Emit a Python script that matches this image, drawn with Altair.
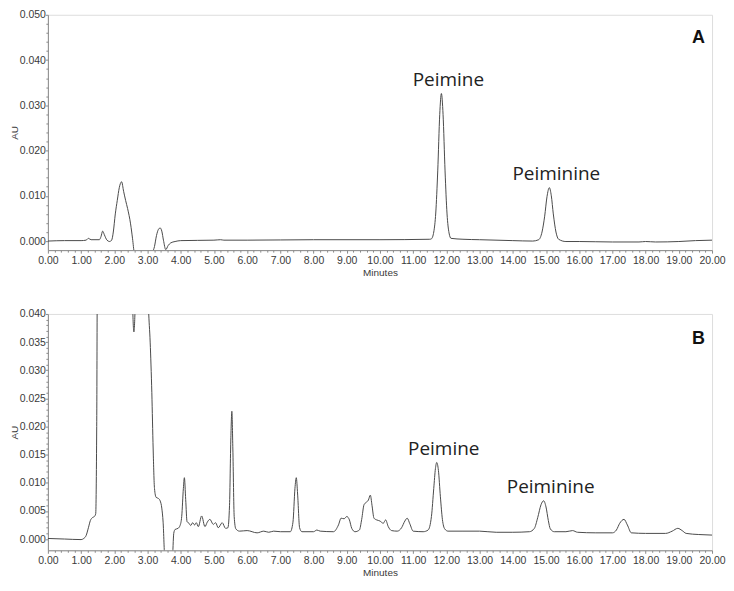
import altair as alt
import pandas as pd

# ---------------- data ----------------
a_time = [0.0, 0.5, 1.0, 1.15, 1.22, 1.3, 1.55, 1.6, 1.65, 1.7, 1.78, 1.86, 1.92, 1.97,
          2.03, 2.09, 2.15, 2.22, 2.28, 2.34, 2.40, 2.49, 2.55, 2.60, 2.70, 3.05, 3.15,
          3.21, 3.27, 3.33, 3.38, 3.43, 3.48, 3.55, 3.62, 3.70, 3.83, 4.0, 5.0, 5.2, 5.3,
          6.0, 8.0, 10.0, 11.5, 11.55, 11.62, 11.68, 11.74, 11.80, 11.85, 11.90, 11.96,
          12.02, 12.08, 12.14, 12.5, 13.0, 14.0, 14.6, 14.78, 14.88, 14.96, 15.03, 15.10,
          15.16, 15.22, 15.30, 15.38, 15.6, 16.0, 17.0, 17.8, 18.0, 18.3, 19.0, 19.5, 20.0]
a_au = [0.0000, 0.0001, 0.0001, 0.0002, 0.0006, 0.0003, 0.0003, 0.0010, 0.0022, 0.0014,
        0.0002, -0.0001, 0.0002, 0.0020, 0.0060, 0.0090, 0.0118, 0.0131, 0.0110, 0.0090,
        0.0072, 0.0038, 0.0005, -0.0025, -0.0040, -0.0040, -0.0025, -0.0012, 0.0012,
        0.0026, 0.0029, 0.0022, 0.0002, -0.0019, -0.0010, -0.0004, -0.0001, 0.0001,
        0.0002, 0.0003, 0.0002, 0.0002, 0.0003, 0.0003, 0.0004, 0.0005, 0.0020, 0.0062,
        0.0155, 0.0280, 0.0326, 0.0280, 0.0155, 0.0060, 0.0018, 0.0006, 0.0004, 0.0003,
        0.0001, 0.0000, 0.0003, 0.0020, 0.0055, 0.0098, 0.0118, 0.0100, 0.0060, 0.0020,
        0.0004, -0.0001, -0.0001, -0.0002, -0.0002, -0.0001, -0.0002, -0.0001, 0.0001,
        0.0002]

b_time = [0.0, 0.5, 1.0, 1.08, 1.15, 1.22, 1.28, 1.34, 1.40, 1.44, 1.47, 1.50, 2.50, 2.55,
          2.59, 2.63, 2.68, 2.95, 3.03, 3.08, 3.13, 3.17, 3.21, 3.26, 3.33, 3.38, 3.43,
          3.47, 3.52, 3.75, 3.79, 3.83, 3.92, 3.98, 4.03, 4.08, 4.11, 4.15, 4.19, 4.25,
          4.30, 4.36, 4.42, 4.47, 4.53, 4.63, 4.73, 4.80, 4.88, 4.98, 5.05, 5.13, 5.25,
          5.35, 5.42, 5.47, 5.51, 5.54, 5.57, 5.61, 5.66, 5.77, 6.0, 6.3, 6.5, 6.65, 6.8,
          7.0, 7.3, 7.38, 7.44, 7.48, 7.52, 7.58, 7.65, 8.0, 8.1, 8.2, 8.6, 8.75, 8.83,
          8.92, 9.00, 9.08, 9.15, 9.25, 9.38, 9.45, 9.52, 9.58, 9.65, 9.71, 9.76, 9.82,
          9.9, 10.0, 10.1, 10.17, 10.25, 10.35, 10.52, 10.65, 10.75, 10.82, 10.9, 11.0,
          11.3, 11.45, 11.55, 11.62, 11.67, 11.71, 11.76, 11.82, 11.88, 11.95, 12.05,
          12.5, 13.0, 13.5, 14.0, 14.5, 14.65, 14.75, 14.85, 14.93, 15.0, 15.07, 15.13,
          15.25, 15.6, 15.8, 15.95, 16.5, 17.0, 17.12, 17.22, 17.35, 17.45, 17.57, 18.0,
          18.6, 18.8, 18.97, 19.1, 19.22, 19.6, 20.0]
b_au = [0.0001, 0.0000, -0.0001, 0.0001, 0.0006, 0.0020, 0.0033, 0.0038, 0.0040, 0.0045,
        0.0200, 0.0600, 0.0600, 0.0420, 0.0368, 0.0420, 0.0600, 0.0600, 0.0410, 0.0350,
        0.0260, 0.0160, 0.0090, 0.0074, 0.0072, 0.0068, 0.0055, 0.0030, -0.0030, -0.0030,
        0.0010, 0.0017, 0.0019, 0.0024, 0.0040, 0.0090, 0.0109, 0.0070, 0.0031, 0.0028,
        0.0024, 0.0029, 0.0025, 0.0029, 0.0022, 0.0041, 0.0022, 0.0030, 0.0035, 0.0026,
        0.0029, 0.0020, 0.0029, 0.0019, 0.0020, 0.0060, 0.0180, 0.0227, 0.0160, 0.0040,
        0.0018, 0.0014, 0.0015, 0.0011, 0.0014, 0.0012, 0.0014, 0.0013, 0.0013, 0.0030,
        0.0090, 0.0109, 0.0080, 0.0020, 0.0013, 0.0013, 0.0016, 0.0014, 0.0013, 0.0025,
        0.0037, 0.0036, 0.0040, 0.0034, 0.0019, 0.0013, 0.0016, 0.0035, 0.0061, 0.0065,
        0.0069, 0.0078, 0.0060, 0.0037, 0.0034, 0.0032, 0.0028, 0.0034, 0.0022, 0.0015,
        0.0014, 0.0020, 0.0032, 0.0037, 0.0027, 0.0014, 0.0013, 0.0016, 0.0040, 0.0090,
        0.0125, 0.0136, 0.0122, 0.0075, 0.0035, 0.0018, 0.0014, 0.0014, 0.0014, 0.0012,
        0.0012, 0.0013, 0.0019, 0.0038, 0.0061, 0.0068, 0.0057, 0.0033, 0.0018, 0.0013,
        0.0013, 0.0015, 0.0012, 0.0011, 0.0011, 0.0016, 0.0028, 0.0035, 0.0025, 0.0011,
        0.0010, 0.0010, 0.0014, 0.0019, 0.0015, 0.0010, 0.0008, 0.0007]

peak_names = ["Peimine", "Peiminine"]
a_peak_time = [11.85, 15.10]
a_peak_au = [0.0326, 0.0118]
b_peak_time = [11.71, 14.93]
b_peak_au = [0.0136, 0.0068]
panel_names = ["A", "B"]

x_minor_ticks = [round(i * 0.2, 1) for i in range(101)]
a_y_minor_ticks = [round(i * 0.002, 3) for i in range(26)]
b_y_minor_ticks = [round(i * 0.001, 3) for i in range(41)]

# ---------------- styling ----------------
AXIS_GREY = "#8a8a8a"
TEXT_GREY = "#3a3a3a"
LINE_COL = "#4a4a4a"
LABEL_FONT = "Liberation Sans"
PLOT_W = 666


def x_axis():
    test = "abs(datum.value - round(datum.value)) < 0.001"
    return alt.Axis(
        values=x_minor_ticks,
        labelExpr=f"{test} ? format(datum.value, '.2f') : ''",
        tickSize={"condition": {"test": test, "value": 3}, "value": 2},
        labelFlush=False, labelOverlap=False, labelBound=False, grid=False,
        title="Minutes", titleFont=LABEL_FONT, titleFontSize=10, titleFontWeight="normal",
        titleColor=TEXT_GREY, titlePadding=2,
        labelFont=LABEL_FONT, labelFontSize=10.5, labelColor=TEXT_GREY, labelPadding=2,
        domainColor=AXIS_GREY, tickColor=AXIS_GREY,
    )


def y_axis(values, mult):
    test = f"abs(datum.value*{mult} - round(datum.value*{mult})) < 0.001"
    return alt.Axis(
        values=values,
        labelExpr=f"{test} ? format(datum.value, '.3f') : ''",
        tickSize={"condition": {"test": test, "value": 2.5}, "value": 2},
        labelOverlap=False, labelFlush=False, labelBound=False, grid=False,
        title="AU", titleFont=LABEL_FONT, titleFontSize=10, titleFontWeight="normal",
        titleColor=TEXT_GREY, titlePadding=0,
        labelFont=LABEL_FONT, labelFontSize=10.5, labelColor=TEXT_GREY, labelPadding=0,
        domainColor=AXIS_GREY, tickColor=AXIS_GREY,
    )


def panel(times, values, ymax, yticks, mult, ptimes, pvals, name, h, label_y):
    df = pd.DataFrame({"t": times, "au": values})
    peaks = pd.DataFrame({"t": ptimes, "au": pvals, "name": peak_names})
    lab = pd.DataFrame({"name": [name]})
    xs = alt.Scale(domain=[0, 20], nice=False, zero=False)
    ys = alt.Scale(domain=[-0.002, ymax], nice=False, zero=False)
    xa = x_axis()
    ya = y_axis(yticks, mult)
    line = alt.Chart(df).mark_line(color=LINE_COL, strokeWidth=1, clip=True,
                                   interpolate="monotone").encode(
        x=alt.X("t:Q", scale=xs, axis=xa),
        y=alt.Y("au:Q", scale=ys, axis=ya),
    )
    text = alt.Chart(peaks).mark_text(font="Open Sans", fontSize=19, color="#222222",
                                      align="center", baseline="alphabetic",
                                      dx=7, dy=-8).encode(
        x=alt.X("t:Q", scale=xs, axis=xa), y=alt.Y("au:Q", scale=ys, axis=ya),
        text="name:N")
    plabel = alt.Chart(lab).mark_text(font=LABEL_FONT, fontSize=18, fontWeight="bold",
                                      color="#111111", align="right",
                                      baseline="alphabetic").encode(
        x=alt.value(PLOT_W - 7), y=alt.value(label_y), text="name:N")
    return alt.layer(line, text, plabel).properties(width=PLOT_W, height=h)


chart_a = panel(a_time, a_au, 0.050, a_y_minor_ticks, 100, a_peak_time, a_peak_au,
                panel_names[0], 236, 28)
chart_b = panel(b_time, b_au, 0.040, b_y_minor_ticks, 200, b_peak_time, b_peak_au,
                panel_names[1], 237, 30)

chart = alt.vconcat(chart_a, chart_b, spacing=64, bounds="flush").properties(
    padding={"left": 0, "top": 0, "right": 0, "bottom": 0}
).configure_view(stroke=AXIS_GREY, strokeWidth=1).configure(background="white")

chart.save("out.html", embed_options={"renderer": "svg", "actions": False})
